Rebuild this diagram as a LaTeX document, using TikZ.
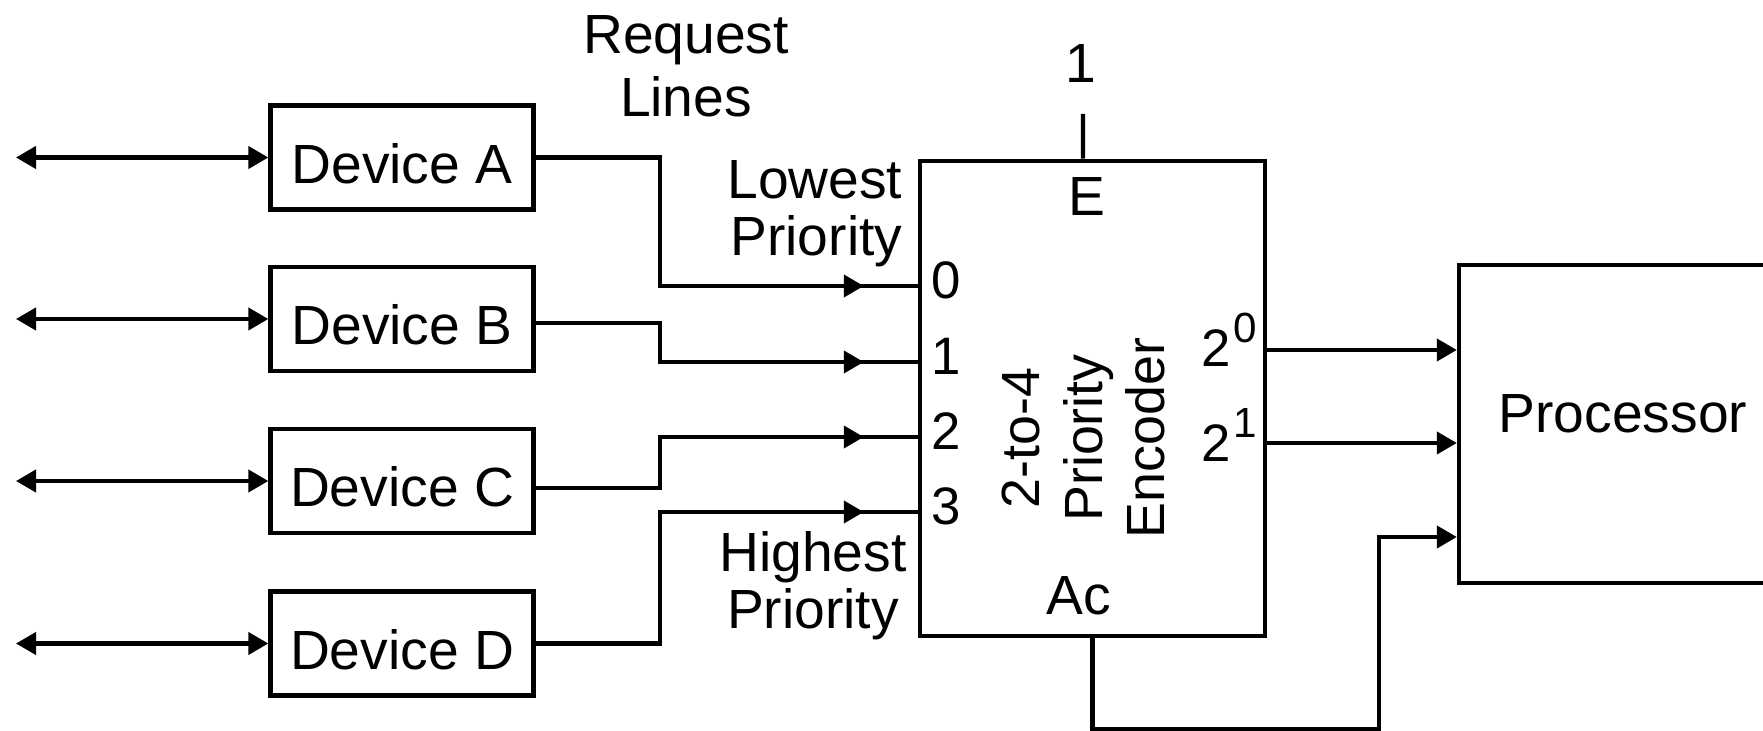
\documentclass[tikz,border=0pt]{standalone}
\usepackage{fontspec}
\setmainfont{Liberation Sans}
\usetikzlibrary{arrows.meta,decorations.markings,positioning}

\tikzset{
  blk/.style={draw, line width=1.2pt, minimum width=2.63cm, minimum height=1.04cm, inner sep=0pt,
    text height=0.51cm, text depth=0pt},
  wire/.style={line width=1.2pt},
  tip/.style={-{Triangle[length=2mm,width=2.2mm]}},
  dblarrow/.style={{Triangle[length=2mm,width=2.2mm]}-{Triangle[length=2mm,width=2.2mm]}},
  reqline/.style={wire, postaction={decorate},
    decoration={markings, mark=at position -0.54cm with {\arrow{Triangle[length=2mm,width=2.2mm]}}}},
  lbl/.style={inner sep=0pt},
}
\newcommand{\pin}{\fontsize{15}{17}\selectfont}
\newcommand{\outpin}[1]{{\pin 2\hspace{0.02cm}\raisebox{0.24cm}{\fontsize{12}{13}\selectfont #1}}}

\begin{document}
\begin{tikzpicture}[x=0.01cm, y=-0.01cm, font=\fontsize{15.7}{16.2}\selectfont]
  \clip (0,0) rectangle (1763,731);
  % devices and their buses
  \node[blk] (devA) at (402,157.5) {Device A};
  \node[blk] (devB) at (402,319) {Device B};
  \node[blk] (devC) at (402,481) {Device C};
  \node[blk] (devD) at (402,643.5) {Device D};
  \foreach \d in {A,B,C,D}{
    \coordinate (bus\d) at (16,0 |- dev\d.west);
    \draw[wire,dblarrow] (bus\d) -- (dev\d.west);
  }
  \node[lbl, align=center, font=\fontsize{15.7}{17.9}\selectfont] (req) at (686,66.5) {Request\\Lines};

  % encoder
  \node[draw, line width=1.2pt, minimum width=3.45cm, minimum height=4.75cm] (enc) at (1092.5,398.5) {};
  \coordinate (in0) at (enc.west |- 0,286);
  \coordinate (in1) at (enc.west |- 0,362);
  \coordinate (in2) at (enc.west |- 0,437);
  \coordinate (in3) at (enc.west |- 0,512);
  \draw[reqline] (devA.east) -- ++(124,0) |- (in0);
  \draw[reqline] ([yshift=-0.04cm]devB.east) -- ++(124,0) |- (in1);
  \draw[reqline] ([yshift=-0.07cm]devC.east) -- ++(124,0) |- (in2);
  \draw[reqline] (devD.east) -- ++(124,0) |- (in3);
  \node[lbl, anchor=base west, font=\pin] (p0) at (931,299) {0};
  \node[lbl, anchor=base west, font=\pin] (p1) at (931,375) {1};
  \node[lbl, anchor=base west, font=\pin] (p2) at (931,450) {2};
  \node[lbl, anchor=base west, font=\pin] (p3) at (931,525) {3};
  \node[lbl, anchor=east, align=right] (low) at (903,213.5) {Lowest\\Priority};
  \node[lbl, align=center] (high) at (813,585.5) {Highest\\Priority};
  \node[lbl, rotate=90, align=center, font=\fontsize{15.3}{17.9}\selectfont] (title) at (1083.5,438) {2-to-4\\Priority\\Encoder};
  \node[lbl, anchor=base] (elab) at (1087,216) {E};
  \node[lbl, anchor=base] (aclab) at (1079,615) {Ac};
  \coordinate (en) at ([xshift=-0.095cm]enc.north);
  \coordinate (entop) at (1083,114);
  \draw[wire] (en) -- (entop);
  \node[lbl, anchor=base] (one) at (1081,83) {1};

  % processor
  \node[draw, line width=1.2pt, minimum width=3.28cm, minimum height=3.18cm, text height=0.18cm, text depth=0pt] (proc) at (1623,424) {Processor};
  \coordinate (q0) at (enc.east |- 0,350);
  \coordinate (q1) at (enc.east |- 0,443);
  \draw[wire,tip] (q0) -- (proc.west |- q0);
  \draw[wire,tip] (q1) -- (proc.west |- q1);
  \node[lbl, anchor=base west] (o0) at (1201,367) {\outpin{0}};
  \node[lbl, anchor=base west] (o1) at (1201,462) {\outpin{1}};
  \coordinate (acin) at (proc.west |- 0,537);
  \draw[wire,tip] (enc.south) |- (1379,729) |- (acin);
\end{tikzpicture}
\end{document}
